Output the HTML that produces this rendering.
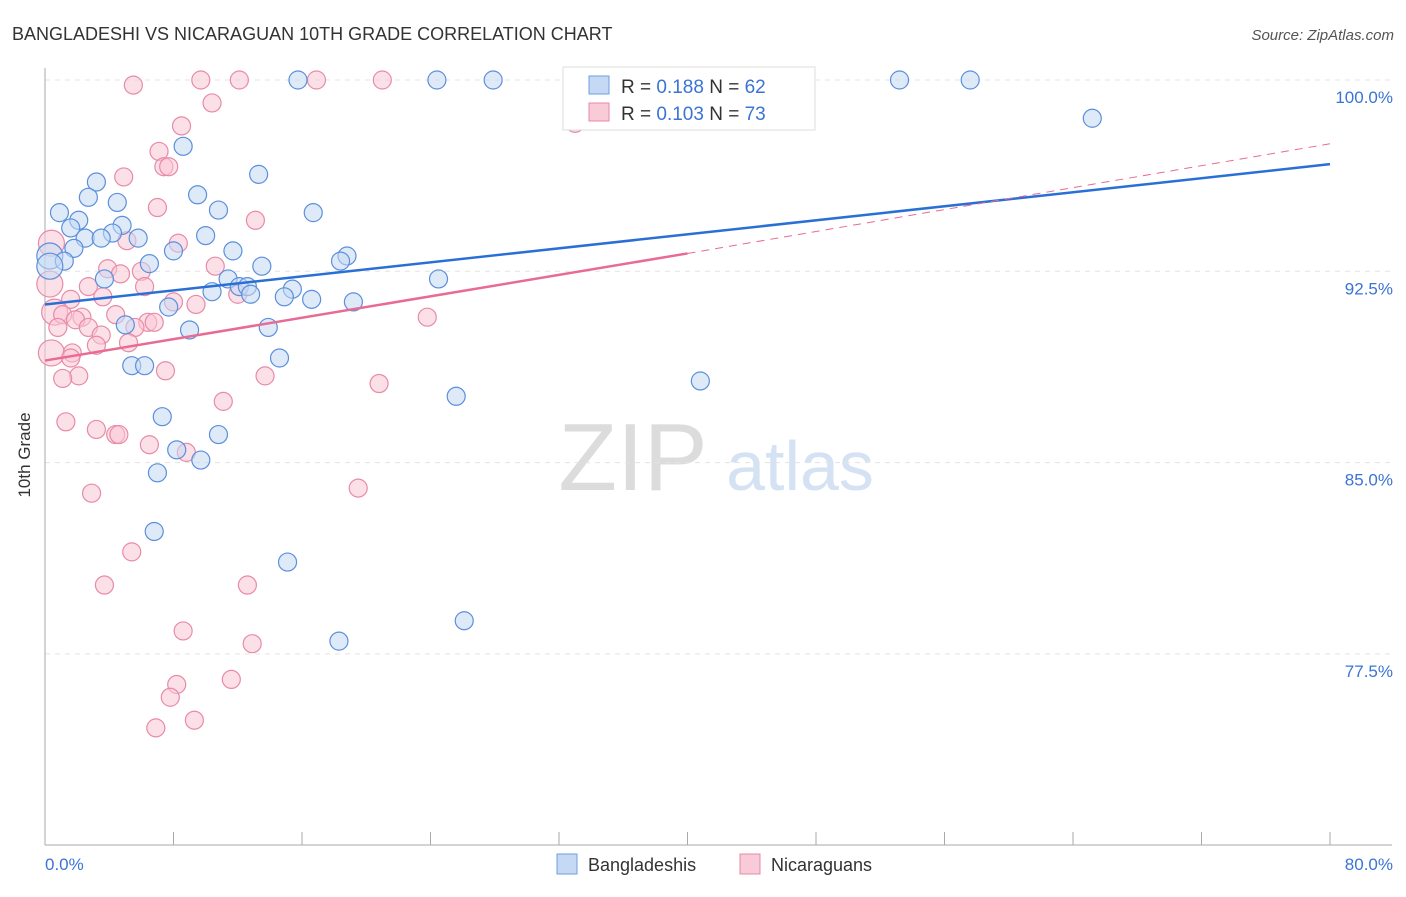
<!DOCTYPE html>
<html><head><meta charset="utf-8"><style>
body{margin:0;background:#fff;font-family:"Liberation Sans",sans-serif;}
svg text{font-family:"Liberation Sans",sans-serif;}
</style></head><body>
<svg id="chart" width="1406" height="892" xmlns="http://www.w3.org/2000/svg">
<text x="12" y="40" font-size="18" fill="#333">BANGLADESHI VS NICARAGUAN 10TH GRADE CORRELATION CHART</text>
<text x="1394" y="40" font-size="15" fill="#555" text-anchor="end" font-style="italic">Source: ZipAtlas.com</text>
<g>
<text x="633" y="490" font-size="96" fill="#dcdcdc" text-anchor="middle" font-family="Liberation Serif">ZIP</text>
<text x="800" y="490" font-size="70" fill="#d4e2f3" text-anchor="middle">atlas</text>
</g>
<g id="grid"></g>
<g id="axes"></g>
<g id="pts"></g>
<g id="trend"></g>
<text x="30" y="455" font-size="17" fill="#333" text-anchor="middle" transform="rotate(-90 30 455)">10th Grade</text>
<g>
<rect x="563" y="67" width="252" height="63" fill="#fff" stroke="#ddd"/>
<rect x="589" y="76" width="20" height="18" fill="#c5d9f4" stroke="#6e9ee0"/>
<text x="621" y="93" font-size="19" fill="#333">R = <tspan fill="#3a74d4">0.188</tspan>   N = <tspan fill="#3a74d4">62</tspan></text>
<rect x="589" y="103" width="20" height="18" fill="#f9cbd8" stroke="#e88aa8"/>
<text x="621" y="120" font-size="19" fill="#333">R = <tspan fill="#3a74d4">0.103</tspan>   N = <tspan fill="#3a74d4">73</tspan></text>
</g>
<g>
<rect x="557" y="854" width="20" height="20" fill="#c5d9f4" stroke="#6e9ee0"/>
<text x="588" y="871" font-size="18" fill="#333">Bangladeshis</text>
<rect x="740" y="854" width="20" height="20" fill="#f9cbd8" stroke="#e88aa8"/>
<text x="771" y="871" font-size="18" fill="#333">Nicaraguans</text>
</g>
</svg>
<script>
const yTicks=[100,92.5,85,77.5];
const yTickLabels=["100.0%","92.5%","85.0%","77.5%"];
const xTickLabels=["0.0%","80.0%"];
const blueX=[15.75,24.4,27.9,53.2,57.6,65.2,8.6,13.3,3.2,9.5,2.7,4.5,10.8,16.7,0.9,2.1,4.8,1.6,4.2,10.0,2.5,3.5,5.8,1.8,11.7,8.0,0.3,1.2,18.8,18.4,6.5,13.5,3.7,11.4,24.5,12.1,12.6,15.4,10.4,12.8,14.9,16.6,19.2,7.7,5.0,13.9,9.0,14.6,5.4,6.2,40.8,25.6,7.3,10.8,8.2,9.7,7.0,6.8,15.1,26.1,18.3,0.3];
const blueY=[100,100,100,100,100,98.5,97.4,96.3,96.0,95.5,95.4,95.2,94.9,94.8,94.8,94.5,94.3,94.2,94.0,93.9,93.8,93.8,93.8,93.4,93.3,93.3,93.1,92.9,93.1,92.9,92.8,92.7,92.2,92.2,92.2,91.9,91.9,91.8,91.7,91.6,91.5,91.4,91.3,91.1,90.4,90.3,90.2,89.1,88.8,88.8,88.2,87.6,86.8,86.1,85.5,85.1,84.6,82.3,81.1,78.8,78.0,92.7];
const pinkX=[5.5,9.7,12.1,16.9,21.0,33.0,10.4,8.5,7.1,7.4,7.7,4.9,7.0,13.1,5.1,8.3,0.4,10.6,3.9,4.7,6.0,0.3,2.7,6.2,3.6,1.6,12.0,8.0,9.4,4.4,0.6,2.3,1.1,1.9,23.8,6.4,6.8,2.7,0.8,5.6,3.5,5.2,3.2,0.4,1.7,1.6,2.1,1.1,7.5,13.7,20.8,11.1,1.3,3.2,4.4,4.6,6.5,8.8,19.5,2.9,5.4,3.7,12.6,8.6,12.9,8.2,11.6,7.8,9.3,6.9];
const pinkY=[99.8,100,100,100,100,98.3,99.1,98.2,97.2,96.6,96.6,96.2,95.0,94.5,93.7,93.6,93.6,92.7,92.6,92.4,92.5,92.0,91.9,91.9,91.5,91.4,91.6,91.3,91.2,90.8,90.9,90.7,90.8,90.6,90.7,90.5,90.5,90.3,90.3,90.3,90.0,89.7,89.6,89.3,89.3,89.1,88.4,88.3,88.6,88.4,88.1,87.4,86.6,86.3,86.1,86.1,85.7,85.4,84.0,83.8,81.5,80.2,80.2,78.4,77.9,76.3,76.5,75.8,74.9,74.6];
const blueTrend=[[0,91.2],[80,96.7]];
const pinkTrend=[[0,89.0],[40,93.2],[80,97.5]];
const NS="http://www.w3.org/2000/svg";
const X=v=>45+v/80*1285, Y=v=>80+(100-v)/7.5*191.3;
function mk(tag,attrs,parent){const e=document.createElementNS(NS,tag);for(const k in attrs)e.setAttribute(k,attrs[k]);document.getElementById(parent).appendChild(e);return e;}
yTicks.forEach((t,i)=>{
 const g=mk('line',{x1:45,x2:1392,y1:Y(t),y2:Y(t),stroke:'#e3e3e3','stroke-dasharray':'5,5'},'grid');
 
 
 const l=mk('text',{x:1393,y:Y(t)+23,'font-size':17,fill:'#3a74d4','text-anchor':'end'},'axes');
 l.textContent=yTickLabels[i];
 
 
});
const ax=mk('line',{x1:45,x2:45,y1:68,y2:845,stroke:'#aaa'},'axes');


const bx=mk('line',{x1:45,x2:1392,y1:845,y2:845,stroke:'#aaa'},'axes');


for(let i=0;i<=10;i++){const t=mk('line',{x1:X(i*8),x2:X(i*8),y1:832,y2:845,stroke:'#aaa'},'axes');
 
 }
[[0,'start',45],[80,'end',1393]].forEach((d,i)=>{const t=mk('text',{x:d[2],y:870,'font-size':17,fill:'#3a74d4','text-anchor':d[1]},'axes');t.textContent=xTickLabels[i];
 
 });
function pts(xs,ys,fill,stroke,name){xs.forEach((x,i)=>{const big=x<0.7;const c=mk('circle',{cx:X(x),cy:Y(ys[i]),r:big?13:9,fill:fill,'fill-opacity':0.55,stroke:stroke,'stroke-width':1.2},'pts');
 
 });}
pts(pinkX,pinkY,'#f9c6d5','#e88aa8','nicaraguan-point');
pts(blueX,blueY,'#c5d9f4','#5b8fdc','bangladeshi-point');
const bl=mk('line',{x1:X(blueTrend[0][0]),y1:Y(blueTrend[0][1]),x2:X(blueTrend[1][0]),y2:Y(blueTrend[1][1]),stroke:'#2a6fd6','stroke-width':2.5},'trend');


const pl=mk('line',{x1:X(pinkTrend[0][0]),y1:Y(pinkTrend[0][1]),x2:X(pinkTrend[1][0]),y2:Y(pinkTrend[1][1]),stroke:'#e86b93','stroke-width':2.5},'trend');


const pd=mk('line',{x1:X(pinkTrend[1][0]),y1:Y(pinkTrend[1][1]),x2:X(pinkTrend[2][0]),y2:Y(pinkTrend[2][1]),stroke:'#e86b93','stroke-width':1,'stroke-dasharray':'8,6'},'trend');


</script>
</body></html>
